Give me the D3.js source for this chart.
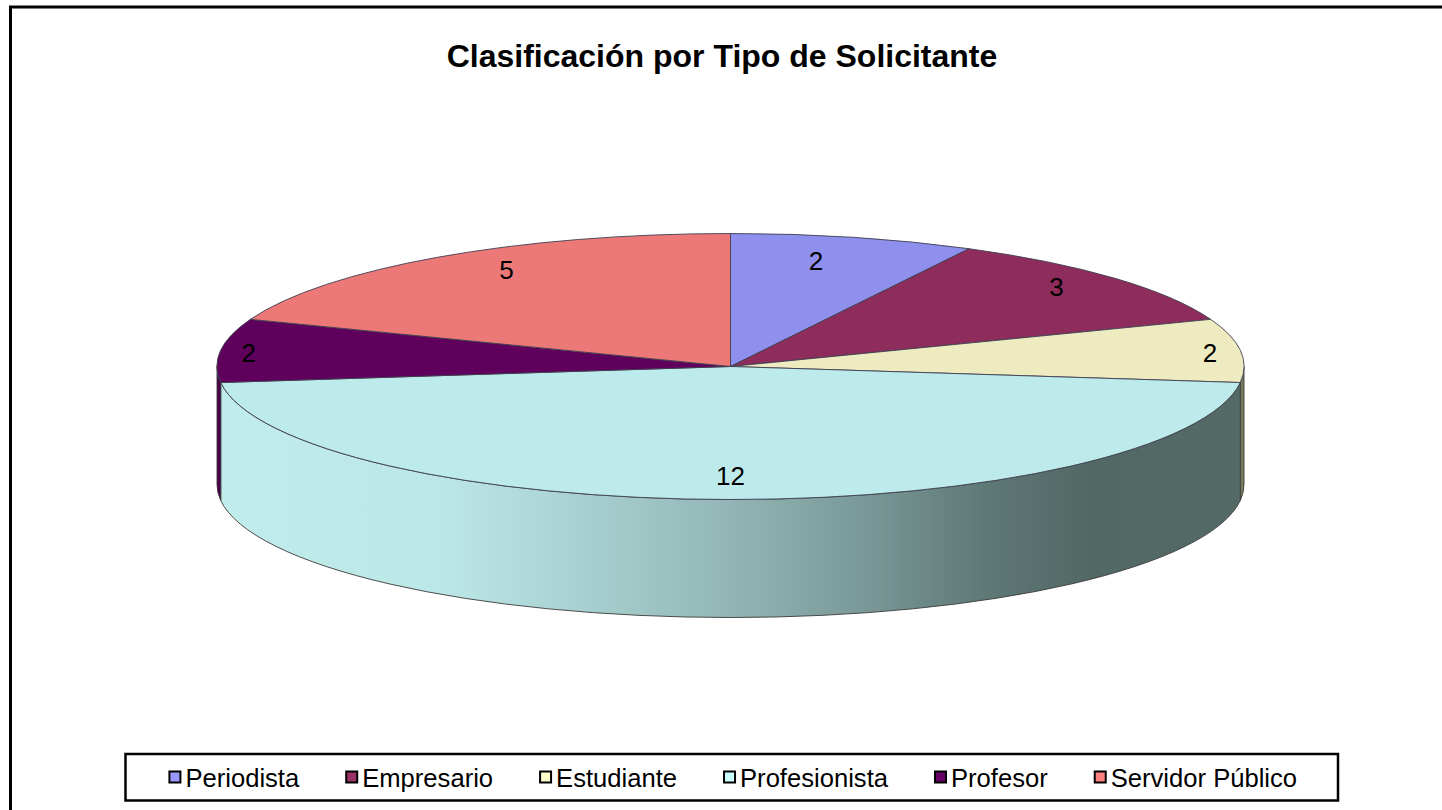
<!DOCTYPE html>
<html><head><meta charset="utf-8">
<script src="https://cdn.jsdelivr.net/npm/d3@7"></script>
<style>body{margin:0;background:#fff}svg{display:block}text{font-family:Arial,"Liberation Sans",sans-serif}</style>
</head><body>
<svg id="c" width="1442" height="810"></svg>
<script>
// ---- data ----
const categories = ["Periodista","Empresario","Estudiante","Profesionista","Profesor","Servidor Público"];
const values = [2, 3, 2, 12, 2, 5];
const chartTitle = "Clasificación por Tipo de Solicitante";

// ---- styles ----
const topColors    = ["#8f8fed","#8e2d5c","#eeebc0","#bdebec","#5f005d","#ed7878"];
const legendColors = ["#9999ff","#993366","#ffffcc","#ccffff","#660066","#ff8080"];
const sideColors   = ["#6d6db5","#6a2044","#7a7a5c","url(#sideGrad)","#4a0048","#b05a5a"];
// label placement (layout only): angle shift in degrees from slice middle, radius fraction
const labelAngleShift = [-2, -1.8, 0.4, 0, -0.5, 3.6];
const labelRadius     = [0.81, 0.873, 0.94, 0.82, 0.944, 0.847];

const svg = d3.select("#c");
const cx = 730.5, cy = 366.5, rx = 513.5, ry = 133, depth = 118;

// outer chart border (extends beyond the canvas on right/bottom)
svg.append("rect").attr("x",10.5).attr("y",7).attr("width",1500).attr("height",900)
  .attr("fill","#fff").attr("stroke","#000").attr("stroke-width",3);

// gradient for the front wall
const defs = svg.append("defs");
const g = defs.append("linearGradient").attr("id","sideGrad")
  .attr("gradientUnits","userSpaceOnUse").attr("x1",cx-rx).attr("x2",cx+rx).attr("y1",0).attr("y2",0);
[[0,"#c0ecec"],[0.22,"#bce7e7"],[0.35,"#a9d1d1"],[0.5,"#93b5b5"],[0.62,"#7b9b9a"],[0.75,"#5e7876"],[0.85,"#526865"],[1,"#546a67"]]
  .forEach(([o,c])=>g.append("stop").attr("offset",o).attr("stop-color",c));

// title
svg.append("text").attr("x",722).attr("y",67).attr("text-anchor","middle")
  .attr("font-size",32).attr("font-weight","bold").attr("fill","#000").text(chartTitle);

const arcs = d3.pie().sort(null).value(d=>d)(values);
const P = (a, r=1, dz=0) => [cx + r*rx*Math.sin(a), cy - r*ry*Math.cos(a) + dz];

// side walls (visible between 90° and 270°)
const lo = Math.PI/2, hi = 3*Math.PI/2;
const sideG = svg.append("g");
arcs.forEach((d,i)=>{
  const s = Math.max(d.startAngle, lo), e = Math.min(d.endAngle, hi);
  if (e <= s) return;
  const large = (e - s) > Math.PI ? 1 : 0;
  const p0 = P(s), p1 = P(e), q1 = P(e,1,depth), q0 = P(s,1,depth);
  const path = `M${p0}A${rx},${ry} 0 ${large} 1 ${p1}L${q1}A${rx},${ry} 0 ${large} 0 ${q0}Z`;
  sideG.append("path").attr("d",path).attr("fill",sideColors[i])
    .attr("stroke","#3a3a3a").attr("stroke-width",0.9).attr("stroke-linejoin","round");
});

// top faces
const topG = svg.append("g");
arcs.forEach((d,i)=>{
  const large = (d.endAngle - d.startAngle) > Math.PI ? 1 : 0;
  const p0 = P(d.startAngle), p1 = P(d.endAngle);
  const path = `M${cx},${cy}L${p0}A${rx},${ry} 0 ${large} 1 ${p1}Z`;
  topG.append("path").attr("d",path).attr("fill",topColors[i])
    .attr("stroke","#404050").attr("stroke-width",0.9).attr("stroke-linejoin","round");
});

// data labels
arcs.forEach((d,i)=>{
  const a = (d.startAngle + d.endAngle)/2 + labelAngleShift[i]*Math.PI/180;
  const [x,y] = P(a, labelRadius[i]);
  svg.append("text").attr("x",x).attr("y",y).attr("dy","0.36em").attr("text-anchor","middle")
    .attr("font-size",26).attr("fill","#000").text(values[i]);
});

// legend
const legBox = {x:125.5, y:754, w:1212.5, h:46.5};
svg.append("rect").attr("x",legBox.x).attr("y",legBox.y).attr("width",legBox.w).attr("height",legBox.h)
  .attr("fill","#fff").attr("stroke","#000").attr("stroke-width",2.5);
const legG = svg.append("g");
const sw = 13, gapSwText = 4, gapItem = 46, fs = 25.6;
const items = categories.map((c,i)=>{
  const t = legG.append("text").attr("font-size",fs).attr("fill","#000").text(c);
  return {t, w: t.node().getComputedTextLength(), i};
});
const total = d3.sum(items, it=>sw+gapSwText+it.w) + gapItem*(items.length-1);
let x = legBox.x + legBox.w/2 - total/2 + 1;
const base = 787;
items.forEach(it=>{
  legG.append("rect").attr("x",x+1).attr("y",base-15.5).attr("width",sw-2).attr("height",sw-2)
    .attr("fill",legendColors[it.i]).attr("stroke","#000").attr("stroke-width",2);
  it.t.attr("x", x+sw+gapSwText).attr("y", base);
  x += sw + gapSwText + it.w + gapItem;
});
</script>
</body></html>
